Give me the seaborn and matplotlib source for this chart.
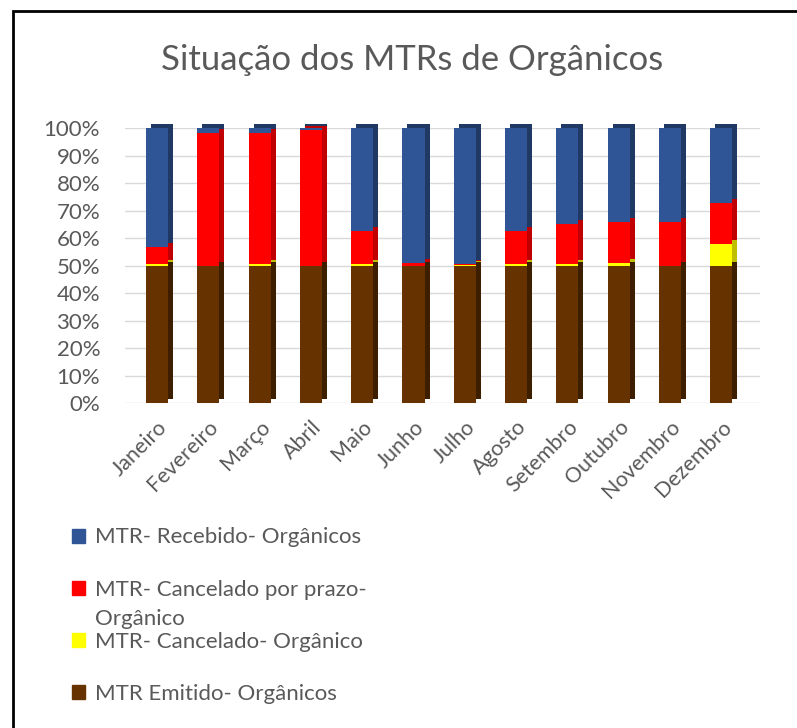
import matplotlib
matplotlib.use("Agg")
import numpy as np
import pandas as pd
import matplotlib.pyplot as plt
import matplotlib.patches as mpatches
import matplotlib.transforms as mtransforms
import seaborn as sns

meses = ["Janeiro", "Fevereiro", "Março", "Abril", "Maio", "Junho",
         "Julho", "Agosto", "Setembro", "Outubro", "Novembro", "Dezembro"]

# shares in % of each month's total (100% stacked)
emitido = [50, 50, 50, 50, 50, 50, 50, 50, 50, 50, 50, 50]
cancelado = [0.6, 0.0, 0.4, 0.0, 0.4, 0.0, 0.3, 0.4, 0.4, 1.0, 0.0, 7.7]
cancelado_prazo = [6.3, 48.2, 47.8, 49.2, 12.3, 1.0, 0.4, 12.3, 14.6, 14.7, 15.7, 15.2]
recebido = [43.1, 1.8, 1.8, 0.8, 37.3, 49.0, 49.3, 37.3, 35.0, 34.3, 34.3, 27.1]

series = ["MTR- Recebido- Orgânicos",
          "MTR- Cancelado por prazo-",
          "MTR- Cancelado- Orgânico",
          "MTR Emitido- Orgânicos"]
cores = ["#2F5597", "#FF0000", "#FFFF00", "#663300"]
cores_lado = ["#1F3864", "#C00000", "#BFBF00", "#3D1F00"]

df = pd.DataFrame({"mes": meses, "emitido": emitido, "cancelado": cancelado,
                   "prazo": cancelado_prazo, "recebido": recebido})
df["c1"] = df["emitido"]
df["c2"] = df["c1"] + df["cancelado"]
df["c3"] = df["c2"] + df["prazo"]
df["c4"] = df["c3"] + df["recebido"]

sns.set_theme(style="white")
plt.rcParams["font.family"] = ["Lato", "DejaVu Sans"]
cinza = "#595959"

fig = plt.figure(figsize=(7.97, 7.28), dpi=100)
ax = fig.add_axes([0.157, 0.4464, 0.797, 0.3777])

# darker copy shifted back/up to fake the 3D side of each column
desloc = mtransforms.ScaledTranslation(5 / 100, 4 / 100, fig.dpi_scale_trans)
for col, cor in zip(["c4", "c3", "c2", "c1"], cores_lado):
    n = len(ax.patches)
    sns.barplot(data=df, x="mes", y=col, color=cor, width=0.43,
                saturation=1, ax=ax, edgecolor="none")
    for p in ax.patches[n:]:
        p.set_transform(ax.transData + desloc)
        p.set_clip_on(False)

for col, cor in zip(["c4", "c3", "c2", "c1"], cores):
    sns.barplot(data=df, x="mes", y=col, color=cor, width=0.43,
                saturation=1, ax=ax, edgecolor="none")

ax.set_xlim(-0.62, 11.76)
ax.set_ylim(0, 100)
ax.set_yticks(np.arange(0, 101, 10))
ax.set_yticklabels([f"{v}%" for v in range(0, 101, 10)], color=cinza, fontsize=16)
ax.set_xticks(range(len(meses)))
ax.set_xticklabels(meses, rotation=45, ha="right", rotation_mode="anchor",
                   color=cinza, fontsize=15.5)
ax.tick_params(axis="y", length=0, pad=18)
ax.tick_params(axis="x", length=0, pad=10)
ax.set_xlabel("")
ax.set_ylabel("")
ax.yaxis.grid(True, color="#D9D9D9", linewidth=1)
ax.set_axisbelow(True)
for s in ax.spines.values():
    s.set_visible(False)

fig.suptitle("Situação dos MTRs de Orgânicos", x=0.517, y=0.94,
             fontsize=25, color=cinza)

handles = [mpatches.Patch(color=c, label=l) for c, l in zip(cores, series)]
leg = fig.legend(handles=handles, loc="upper left", bbox_to_anchor=(0.065, 0.303),
                 frameon=False, fontsize=16, labelcolor=cinza,
                 handlelength=0.6, handleheight=0.6, handletextpad=0.45,
                 labelspacing=1.45)

# second line of the "Cancelado por prazo" label, hanging below its first line
fig.canvas.draw()
t = leg.get_texts()[1]
bb = t.get_window_extent()
fig.text(bb.x0, bb.y0 - 9, "Orgânico", transform=None, va="top", ha="left",
         fontsize=16, color=cinza)

fig.add_artist(mpatches.Rectangle((13 / 797, -0.2), 1.5, 1.2 - 11 / 728,
                                  transform=fig.transFigure, fill=False,
                                  edgecolor="black", linewidth=2))

fig.savefig("out.png", dpi=100)
